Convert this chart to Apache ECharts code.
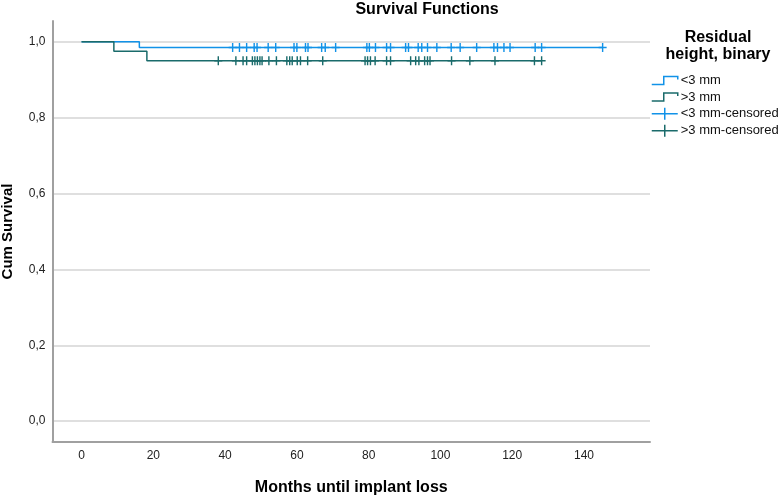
<!DOCTYPE html>
<html><head><meta charset="utf-8">
<script src="https://cdn.jsdelivr.net/npm/echarts@6/dist/echarts.min.js"></script>
<style>html,body{margin:0;padding:0;background:#fff}#c{width:784px;height:496px}</style>
</head><body><div id="c"></div>
<script>
const chartTitle = 'Survival Functions';
const legendTitle = 'Residual\nheight, binary';
const xName = 'Months until implant loss';
const yName = 'Cum Survival';
const seriesNames = ['<3 mm', '>3 mm', '<3 mm-censored', '>3 mm-censored'];
const xTicks = [0, 20, 40, 60, 80, 100, 120, 140];
const yTicks = [0, 0.2, 0.4, 0.6, 0.8, 1.0];

// Kaplan-Meier step points [month, cumulative survival]
const lt3Steps = [[0, 1], [16.1, 0.985], [145.2, 0.985]];
const gt3Steps = [[0, 1], [9.0, 0.975], [18.2, 0.95], [128.2, 0.95]];

// censored observation times (months)
const lt3CensorTimes = [42.1, 44.0, 46.0, 48.1, 48.9, 52.0, 54.1, 59.2, 60.0, 62.4, 63.1, 66.9, 67.9, 70.8,
  79.5, 80.2, 81.9, 85.0, 86.1, 90.3, 91.1, 93.8, 94.8, 96.4, 99.0, 103.0, 105.5, 110.1, 114.9, 115.9,
  117.7, 119.4, 126.4, 128.2, 145.2];
const lt3CensorSurv = 0.985;
const gt3CensorTimes = [38.1, 43.0, 45.0, 46.0, 47.6, 48.3, 49.0, 49.7, 50.3, 52.2, 54.3, 57.2, 58.0, 58.7,
  60.1, 61.0, 63.0, 67.2, 79.0, 79.7, 80.5, 81.8, 85.0, 86.1, 91.7, 93.1, 94.0, 95.6, 96.4, 97.1, 103.1,
  108.2, 115.2, 126.2, 128.2];
const gt3CensorSurv = 0.95;

const blue = '#1192e8';
const teal = '#1a6b6b';
const font = '"Liberation Sans", Arial, sans-serif';
const crossPath = 'path://M4,0 L4,9 M0,4.5 L8,4.5';

const chart = echarts.init(document.getElementById('c'), null, {renderer: 'canvas'});
chart.setOption({
  animation: false,
  backgroundColor: '#fff',
  textStyle: {fontFamily: font},
  title: [
    {text: chartTitle, left: 427, top: 2, padding: 0, textAlign: 'center',
     textStyle: {fontFamily: font, fontSize: 16, fontWeight: 'bold', color: '#000'}},
    {text: legendTitle, left: 718, top: 29, padding: 0, textAlign: 'center',
     textStyle: {fontFamily: font, fontSize: 16, fontWeight: 'bold', color: '#000', lineHeight: 17}}
  ],
  legend: {
    orient: 'vertical', left: 651, top: 74, padding: 0,
    itemWidth: 26, itemHeight: 12, itemGap: 3.5,
    textStyle: {fontFamily: font, fontSize: 13, color: '#111', lineHeight: 13, padding: [0, 0, 0, -2]},
    data: [
      {name: seriesNames[0], icon: 'path://M0,11 L12,11 L12,3 L26,3 L26,6',
       itemStyle: {color: 'transparent', borderColor: blue, borderWidth: 1.5}},
      {name: seriesNames[1], icon: 'path://M0,11 L12,11 L12,3 L26,3 L26,6',
       itemStyle: {color: 'transparent', borderColor: teal, borderWidth: 1.5}},
      {name: seriesNames[2], icon: 'path://M0,6 L26,6 M13,0 L13,12',
       itemStyle: {color: 'transparent', borderColor: blue, borderWidth: 1.5}},
      {name: seriesNames[3], icon: 'path://M0,6 L26,6 M13,0 L13,12',
       itemStyle: {color: 'transparent', borderColor: teal, borderWidth: 1.5}}
    ]
  },
  grid: {left: 52.5, right: 134, top: 21, bottom: 54, containLabel: false, outerBoundsMode: 'none'},
  xAxis: {
    type: 'value', min: -8.1, max: 158.4,
    name: xName, nameLocation: 'middle', nameGap: 38,
    nameTextStyle: {fontFamily: font, fontSize: 16, fontWeight: 'bold', color: '#000'},
    axisLine: {show: true, onZero: false, lineStyle: {color: '#a0a0a0', width: 2}},
    axisTick: {show: false, customValues: xTicks},
    axisLabel: {customValues: xTicks, margin: 8, fontFamily: font, fontSize: 12, color: '#222'},
    splitLine: {show: false}
  },
  yAxis: {
    type: 'value', min: -0.055, max: 1.055,
    name: yName, nameLocation: 'middle', nameGap: 37, nameRotate: 90,
    nameTextStyle: {fontFamily: font, fontSize: 15, fontWeight: 'bold', color: '#000'},
    axisLine: {show: true, onZero: false, lineStyle: {color: '#a0a0a0', width: 2}},
    axisTick: {show: false, customValues: yTicks},
    axisLabel: {customValues: yTicks, margin: 7, fontFamily: font, fontSize: 12, color: '#222',
      formatter: v => v.toFixed(1).replace('.', ',')},
    splitLine: {show: true, lineStyle: {color: '#d4d4d4', width: 1.5}}
  },
  series: [
    {name: seriesNames[0], type: 'line', step: 'end', data: lt3Steps, showSymbol: false, symbol: 'none',
     lineStyle: {color: blue, width: 1.5}, itemStyle: {color: blue}, z: 2},
    {name: seriesNames[1], type: 'line', step: 'end', data: gt3Steps, showSymbol: false, symbol: 'none',
     lineStyle: {color: teal, width: 1.5}, itemStyle: {color: teal}, z: 3},
    {name: seriesNames[2], type: 'scatter', data: lt3CensorTimes.map(t => [t, lt3CensorSurv]),
     symbol: crossPath, symbolSize: [8, 9],
     itemStyle: {color: 'transparent', borderColor: blue, borderWidth: 1.5, opacity: 1}, z: 4},
    {name: seriesNames[3], type: 'scatter', data: gt3CensorTimes.map(t => [t, gt3CensorSurv]),
     symbol: crossPath, symbolSize: [8, 9],
     itemStyle: {color: 'transparent', borderColor: teal, borderWidth: 1.5, opacity: 1}, z: 5}
  ]
});
</script></body></html>
